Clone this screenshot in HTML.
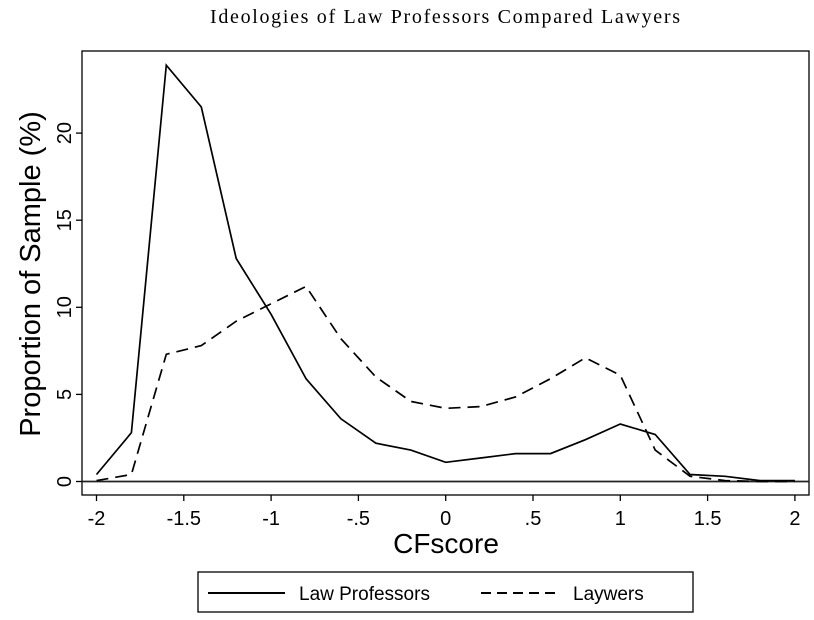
<!DOCTYPE html>
<html><head><meta charset="utf-8"><style>body{margin:0;background:#fff}svg{display:block}</style></head>
<body>
<svg width="814" height="620" xmlns="http://www.w3.org/2000/svg" font-family="Liberation Sans, sans-serif">
<text x="445" y="23" text-anchor="middle" font-family="Liberation Serif, serif" font-size="20" textLength="470" lengthAdjust="spacing">Ideologies of Law Professors Compared Lawyers</text>
<rect x="82" y="51" width="727" height="444" fill="none" stroke="#000" stroke-width="1.3"/>
<g id="axes"></g>
<g id="series"></g>
<text transform="translate(40,274) rotate(-90)" text-anchor="middle" font-size="29">Proportion of Sample (%)</text>
<text x="446" y="553" text-anchor="middle" font-size="28">CFscore</text>
<g>
<rect x="198" y="572" width="495" height="40" fill="none" stroke="#000" stroke-width="1.3"/>
<line x1="208" y1="593" x2="285" y2="593" stroke="#000" stroke-width="2"/>
<text x="299" y="600" font-size="19">Law Professors</text>
<line x1="481" y1="593" x2="560" y2="593" stroke="#000" stroke-width="2" stroke-dasharray="10,6"/>
<text x="573" y="600" font-size="19">Laywers</text>
</g>
</svg>
<script>
const xTicks=[-2,-1.5,-1,-0.5,0,0.5,1,1.5,2];
const xTickLabels=["-2","-1.5","-1","-.5","0",".5","1","1.5","2"];
const yTicks=[0,5,10,15,20];
const cfscores=[-2,-1.8,-1.6,-1.4,-1.2,-1,-0.8,-0.6,-0.4,-0.2,0,0.2,0.4,0.6,0.8,1,1.2,1.4,1.6,1.8,2];
const professors=[0.4,2.8,23.9,21.5,12.8,9.6,5.9,3.6,2.2,1.8,1.1,1.35,1.6,1.6,2.4,3.3,2.7,0.4,0.3,0.05,0.05];
const lawyers=[0.05,0.4,7.3,7.8,9.2,10.2,11.2,8.2,6.0,4.6,4.2,4.3,4.85,5.9,7.1,6.1,1.8,0.3,0.05,0,0];
const NS="http://www.w3.org/2000/svg";
const xs=v=>96.5+(v+2)*174.6;
const ys=v=>481.5-v*17.42;
function mk(t,a,p){const e=document.createElementNS(NS,t);for(const k in a)e.setAttribute(k,a[k]);p.appendChild(e);return e;}
const ax=document.getElementById('axes');
xTicks.forEach((v,i)=>{
 const l=mk('line',{x1:xs(v),x2:xs(v),y1:495,y2:501,stroke:'#000','stroke-width':1.3},ax);
 
 
 const t=mk('text',{x:xs(v),y:525,'text-anchor':'middle','font-size':20},ax);
 
 
 t.textContent=xTickLabels[i];
});
yTicks.forEach(v=>{
 const l=mk('line',{x1:76,x2:82,y1:ys(v),y2:ys(v),stroke:'#000','stroke-width':1.3},ax);
 
 
 const t=mk('text',{transform:`translate(71,${ys(v)}) rotate(-90)`,'text-anchor':'middle','font-size':20},ax);
 
 
 t.textContent=String(v);
});
const zl=mk('line',{x1:82,x2:809,y1:ys(0),y2:ys(0),stroke:'#222','stroke-width':1.8},ax);


const sg=document.getElementById('series');
function pts(arr){return cfscores.map((x,i)=>xs(x).toFixed(1)+','+ys(arr[i]).toFixed(1)).join(' ');}
const p1=mk('polyline',{points:pts(professors),fill:'none',stroke:'#000','stroke-width':1.7},sg);


const p2=mk('polyline',{points:pts(lawyers),fill:'none',stroke:'#000','stroke-width':1.7,'stroke-dasharray':'12,7'},sg);


</script>
</body></html>
